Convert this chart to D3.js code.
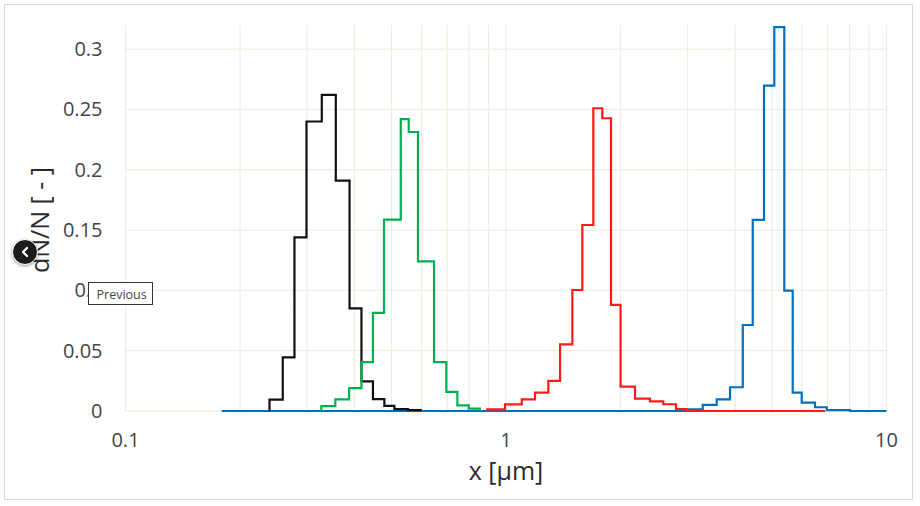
<!DOCTYPE html>
<html>
<head>
<meta charset="utf-8">
<script src="https://cdn.jsdelivr.net/npm/d3@7"></script>
<style>
  html, body { margin: 0; padding: 0; background: #ffffff; }
  svg { display: block; font-family: "Open Sans", "Segoe UI", sans-serif; }
</style>
</head>
<body>
<svg id="chart" width="920" height="506"></svg>
<script>
// ---- data (bin edges in µm, bin values dN/N) ----
const blackEdges  = [0.239, 0.259, 0.278, 0.299, 0.328, 0.357, 0.388, 0.417, 0.447, 0.479, 0.509, 0.553, 0.597];
const blackValues = [0.0094, 0.0445, 0.144, 0.240, 0.262, 0.191, 0.085, 0.0245, 0.0098, 0.0043, 0.0015, 0.0008];

const greenEdges  = [0.327, 0.356, 0.387, 0.417, 0.447, 0.478, 0.529, 0.555, 0.587, 0.647, 0.697, 0.745, 0.798, 0.854];
const greenValues = [0.0041, 0.0097, 0.019, 0.0406, 0.0813, 0.1586, 0.2419, 0.2313, 0.1241, 0.0406, 0.0158, 0.0047, 0.0019];

const redEdges  = [0.893, 0.994, 1.100, 1.192, 1.292, 1.387, 1.494, 1.587, 1.696, 1.791, 1.888, 2.000, 2.183, 2.390, 2.591, 2.798, 2.972, 6.893];
const redValues = [0.0014, 0.0055, 0.0097, 0.0152, 0.0249, 0.0553, 0.1003, 0.1542, 0.2510, 0.2427, 0.0879, 0.0202, 0.0102, 0.0080, 0.0056, 0.0015, 0];

const blueEdges  = [0.179, 2.972, 3.289, 3.579, 3.879, 4.190, 4.451, 4.765, 5.072, 5.388, 5.669, 5.986, 6.488, 6.965, 8.020, 10];
const blueValues = [0, 0.0014, 0.0050, 0.0097, 0.0197, 0.0713, 0.1584, 0.2698, 0.3182, 0.0998, 0.0152, 0.0069, 0.0031, 0.0008, 0];

const yTickValues = [0, 0.05, 0.1, 0.15, 0.2, 0.25, 0.3];
const yTickLabels = ["0", "0.05", "0.1", "0.15", "0.2", "0.25", "0.3"];
const xTickValues = [0.1, 1, 10];
const xTickLabels = ["0.1", "1", "10"];
const xTitle = "x [µm]";
const yTitle = "dN/N [ - ]";

// ---- layout ----
const svg = d3.select("#chart");
const x = d3.scaleLog().domain([0.1, 10]).range([125.5, 886.5]);
const y = d3.scaleLinear().domain([0, 0.32]).range([411, 25]);

// chart border
svg.append("rect").attr("x", 4.5).attr("y", 4.5).attr("width", 908).attr("height", 495)
  .attr("fill", "#ffffff").attr("stroke", "#d9d9d9").attr("stroke-width", 1);

// gridlines
const grid = svg.append("g").attr("stroke", "#efeee2").attr("stroke-width", 1.3);
grid.selectAll("line.v").data(x.ticks()).join("line")
  .attr("x1", d => x(d)).attr("x2", d => x(d))
  .attr("y1", y.range()[1]).attr("y2", y(0));
grid.selectAll("line.h").data(yTickValues).join("line")
  .attr("x1", x.range()[0]).attr("x2", x.range()[1])
  .attr("y1", d => y(d)).attr("y2", d => y(d));

// y axis labels via d3 axis
const yAxis = d3.axisLeft(y).tickValues(yTickValues).tickSize(0).tickPadding(23)
  .tickFormat((d, i) => yTickLabels[i]);
const gy = svg.append("g").attr("transform", `translate(${x.range()[0]},0)`).call(yAxis);
gy.select(".domain").remove();
gy.selectAll("text").attr("font-size", 20).attr("fill", "#454545")
  .attr("font-family", "'Open Sans', sans-serif");

// x axis labels
svg.append("g").selectAll("text").data(xTickValues).join("text")
  .attr("x", d => x(d)).attr("y", 447)
  .attr("text-anchor", "middle").attr("font-size", 20).attr("fill", "#454545")
  .text((d, i) => xTickLabels[i]);

// titles
svg.append("text").attr("x", x(1)).attr("y", 480).attr("text-anchor", "middle")
  .attr("font-size", 25).attr("fill", "#2b2b2b").text(xTitle);
svg.append("text").attr("transform", "translate(49,220) rotate(-90)")
  .attr("text-anchor", "middle").attr("font-size", 25).attr("fill", "#2b2b2b").text(yTitle);

// step histograms
function stepPoints(edges, values) {
  const pts = [[edges[0], 0]];
  values.forEach((v, i) => { pts.push([edges[i], v]); pts.push([edges[i + 1], v]); });
  pts.push([edges[edges.length - 1], 0]);
  return pts;
}
const line = d3.line().x(d => x(d[0])).y(d => y(d[1]));
const series = [
  { edges: blueEdges,  values: blueValues,  color: "#0070c0" },
  { edges: blackEdges, values: blackValues, color: "#111111" },
  { edges: greenEdges, values: greenValues, color: "#00b050" },
  { edges: redEdges,   values: redValues,   color: "#ff1a1a" }
];
svg.append("g").selectAll("path").data(series).join("path")
  .attr("d", d => line(stepPoints(d.edges, d.values)))
  .attr("fill", "none").attr("stroke", d => d.color)
  .attr("stroke-width", 2.2).attr("stroke-linejoin", "miter");

// overlay: navigation button and tooltip (as seen in the reference)
const defs = svg.append("defs");
const f = defs.append("filter").attr("id", "sh").attr("x", "-50%").attr("y", "-50%").attr("width", "200%").attr("height", "200%");
f.append("feDropShadow").attr("dx", 0).attr("dy", 1).attr("stdDeviation", 1.5).attr("flood-color", "#000").attr("flood-opacity", 0.45);
const btn = svg.append("g").attr("transform", "translate(25,252)");
btn.append("circle").attr("r", 12.5).attr("fill", "#1e1e1e").attr("stroke", "#ffffff").attr("stroke-width", 1).attr("filter", "url(#sh)");
btn.append("path").attr("d", "M2,-4 L-2,0 L2,4").attr("fill", "none").attr("stroke", "#ffffff").attr("stroke-width", 2.2)
  .attr("stroke-linecap", "round").attr("stroke-linejoin", "round");

const tip = svg.append("g").attr("transform", "translate(88.5,282.5)");
tip.append("rect").attr("width", 64).attr("height", 22).attr("fill", "#ffffff").attr("stroke", "#333333").attr("stroke-width", 1);
tip.append("text").attr("x", 8).attr("y", 16).attr("font-size", 12.5).attr("fill", "#444444")
  .attr("font-family", "'Open Sans', sans-serif").text("Previous");
</script>
</body>
</html>
